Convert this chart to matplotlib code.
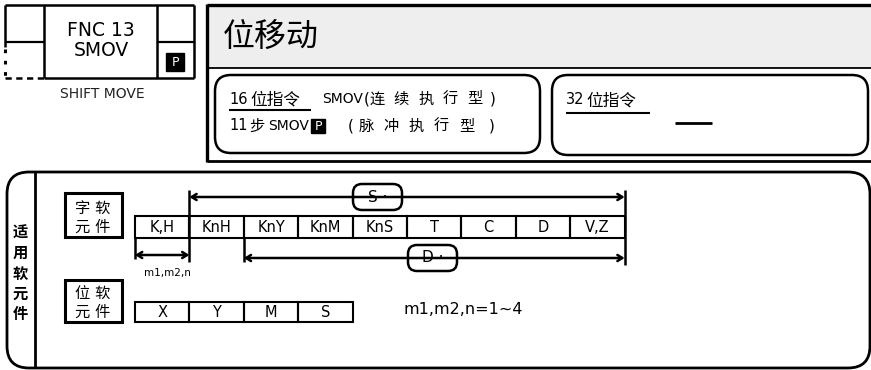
import matplotlib.pyplot as plt
from matplotlib.patches import FancyBboxPatch, Rectangle

plt.rcParams['font.family'] = ['DejaVu Sans', 'Noto Sans CJK SC']

# text / data of the diagram
title = '位移动'
fnc_code = 'FNC 13'
mnemonic = 'SMOV'
subtitle = 'SHIFT MOVE'
bits16, steps16 = '16', '位指令'
steps11, step_word = '11', '步'
mode_cont = '连续执行型'
mode_pulse = '脉冲执行型'
bits32, cmd32 = '32', '位指令'
side_label = '适用软元件'
word_label = ['字 软', '元 件']
bit_label = ['位 软', '元 件']
word_devices = ['K,H', 'KnH', 'KnY', 'KnM', 'KnS', 'T', 'C', 'D', 'V,Z']
bit_devices = ['X', 'Y', 'M', 'S']
s_first = 1   # S· usable from KnH on
d_first = 2   # D· usable from KnY on
m_span = 1    # m1,m2,n covers K,H
note = 'm1,m2,n=1~4'

fig = plt.figure(figsize=(8.71, 3.70), dpi=100)
ax = fig.add_axes([0, 0, 1, 1])
ax.set_xlim(0, 871)
ax.set_ylim(370, 0)
ax.axis('off')


def line(x1, y1, x2, y2, lw=1.8, ls='-'):
    ax.plot([x1, x2], [y1, y2], color='black', lw=lw, ls=ls,
            solid_capstyle='butt', dash_capstyle='butt')


def rbox(x, y, w, h, r, lw=1.8, fc='none'):
    ax.add_patch(FancyBboxPatch((x, y), w, h,
                                boxstyle='round,pad=0,rounding_size=%g' % r,
                                fc=fc, ec='black', lw=lw))


def pbox(x, y, s=18, fs=9):
    ax.add_patch(Rectangle((x, y), s, s, fc='black', ec='black'))
    ax.text(x + s / 2, y + s / 2 + 0.5, 'P', color='white', fontsize=fs,
            ha='center', va='center')


def spaced(chars, x_first, step, y, fs=11):
    for i, ch in enumerate(chars):
        ax.text(x_first + i * step, y, ch, fontsize=fs, ha='center',
                va='center')


# ---- top-left instruction symbol
line(5, 5, 194, 5)
for xv in (44, 157, 194):
    line(xv, 5, xv, 78)
line(44, 78, 194, 78)
line(5, 42, 44, 42, lw=1.6)
line(157, 42, 194, 42, lw=1.6)
line(5, 5, 5, 47)
line(5, 49, 5, 78, lw=2.2, ls=(0, (1.2, 2.5)))
line(5, 78, 44, 78, lw=1.8, ls=(0, (2.5, 1.8)))
ax.text(101, 31, fnc_code, fontsize=13.5, ha='center', va='center')
ax.text(101, 51, mnemonic, fontsize=13.5, ha='center', va='center')
pbox(166, 53)
ax.text(102, 94, subtitle, fontsize=10, ha='center', va='center',
        color='#222222')

# ---- header frame
ax.add_patch(Rectangle((207, 5), 664, 63, fc='#eeeeee', ec='none'))
line(207, 5, 871, 5, lw=2.4)
line(207, 68, 871, 68, lw=1.3)
line(207, 4, 207, 162, lw=2.4)
line(207, 161, 871, 161, lw=2.0)
ax.text(223, 37, title, fontsize=23, ha='left', va='center')

# 16 bit instruction box
rbox(215, 75, 325, 78, 16)
y1, y2 = 99, 126
ax.text(229, y1, bits16, fontsize=10.5, ha='left', va='center')
ax.text(250, y1, steps16, fontsize=12, ha='left', va='center')
line(229, 110, 311, 110, lw=1.5)
ax.text(322, y1, 'SMOV', fontsize=10, ha='left', va='center')
ax.text(367, y1, '(', fontsize=11, ha='center', va='center')
spaced(mode_cont, 377, 24.5, y1, fs=11)
ax.text(493, y1, ')', fontsize=11, ha='center', va='center')

ax.text(229, y2, steps11, fontsize=10.5, ha='left', va='center')
ax.text(257, y2, step_word, fontsize=11, ha='center', va='center')
ax.text(268, y2, 'SMOV', fontsize=10, ha='left', va='center')
pbox(311, 119, 14, fs=9)
ax.text(351, y2, '(', fontsize=11, ha='center', va='center')
spaced(mode_pulse, 366, 25.2, y2, fs=11)
ax.text(492, y2, ')', fontsize=11, ha='center', va='center')

# 32 bit instruction box
rbox(552, 75, 316, 80, 16)
ax.text(566, 100, bits32, fontsize=10.5, ha='left', va='center')
ax.text(586, 100, cmd32, fontsize=12, ha='left', va='center')
line(566, 113, 650, 113, lw=1.5)
line(675, 123, 712, 123, lw=2.0)

# ---- applicable devices panel
rbox(7, 172, 863, 196, 22, lw=2.0)
line(35, 172, 35, 368, lw=2.0)
for i, ch in enumerate(side_label):
    ax.text(20, 233 + i * 20.5, ch, fontsize=11, ha='center', va='center',
            fontweight='bold')

# labels for word / bit devices
ax.add_patch(Rectangle((65, 193), 57, 44, fc='none', ec='black', lw=2.2))
ax.text(93, 208, word_label[0], fontsize=11, ha='center', va='center')
ax.text(93, 227, word_label[1], fontsize=11, ha='center', va='center')
ax.add_patch(Rectangle((65, 280), 57, 42, fc='none', ec='black', lw=2.2))
ax.text(93, 294, bit_label[0], fontsize=11, ha='center', va='center')
ax.text(93, 312, bit_label[1], fontsize=11, ha='center', va='center')

# device cells
x0, cw = 135, 54.4
wy, wh = 216, 22
for i, name in enumerate(word_devices):
    ax.add_patch(Rectangle((x0 + i * cw, wy), cw, wh, fc='none',
                           ec='black', lw=1.5))
    ax.text(x0 + (i + 0.5) * cw, wy + wh / 2 + 0.5, name, fontsize=10.5,
            ha='center', va='center')
by, bh = 302, 20
for i, name in enumerate(bit_devices):
    ax.add_patch(Rectangle((x0 + i * cw, by), cw, bh, fc='none',
                           ec='black', lw=1.5))
    ax.text(x0 + (i + 0.5) * cw, by + bh / 2 + 0.5, name, fontsize=10.5,
            ha='center', va='center')

xend = x0 + len(word_devices) * cw
arr = dict(arrowstyle='<->,head_length=0.35,head_width=0.22', lw=1.8,
           color='black', shrinkA=0, shrinkB=0)

# S· range
xs = x0 + s_first * cw
line(xs, 190, xs, 262)
ax.annotate('', xy=(xend, 197), xytext=(xs, 197), arrowprops=arr)
rbox(353, 184, 49, 26, 9, fc='white')
ax.text(377.5, 197, 'S ·', fontsize=11, ha='center', va='center')

# D· range
xd = x0 + d_first * cw
line(xd, wy + wh, xd, 262)
ax.annotate('', xy=(xend, 258), xytext=(xd, 258), arrowprops=arr)
rbox(408, 245, 49, 26, 9, fc='white')
ax.text(432.5, 258, 'D ·', fontsize=11, ha='center', va='center')

line(xend, 190, xend, 265)

# m1,m2,n range
line(x0, wy + wh, x0, 259)
ax.annotate('', xy=(x0 + m_span * cw, 255), xytext=(x0, 255), arrowprops=arr)
ax.text(167, 273, 'm1,m2,n', fontsize=7.5, ha='center', va='center')

ax.text(403, 309, note, fontsize=11.5, ha='left', va='center')

fig.savefig('out.png', dpi=100)
